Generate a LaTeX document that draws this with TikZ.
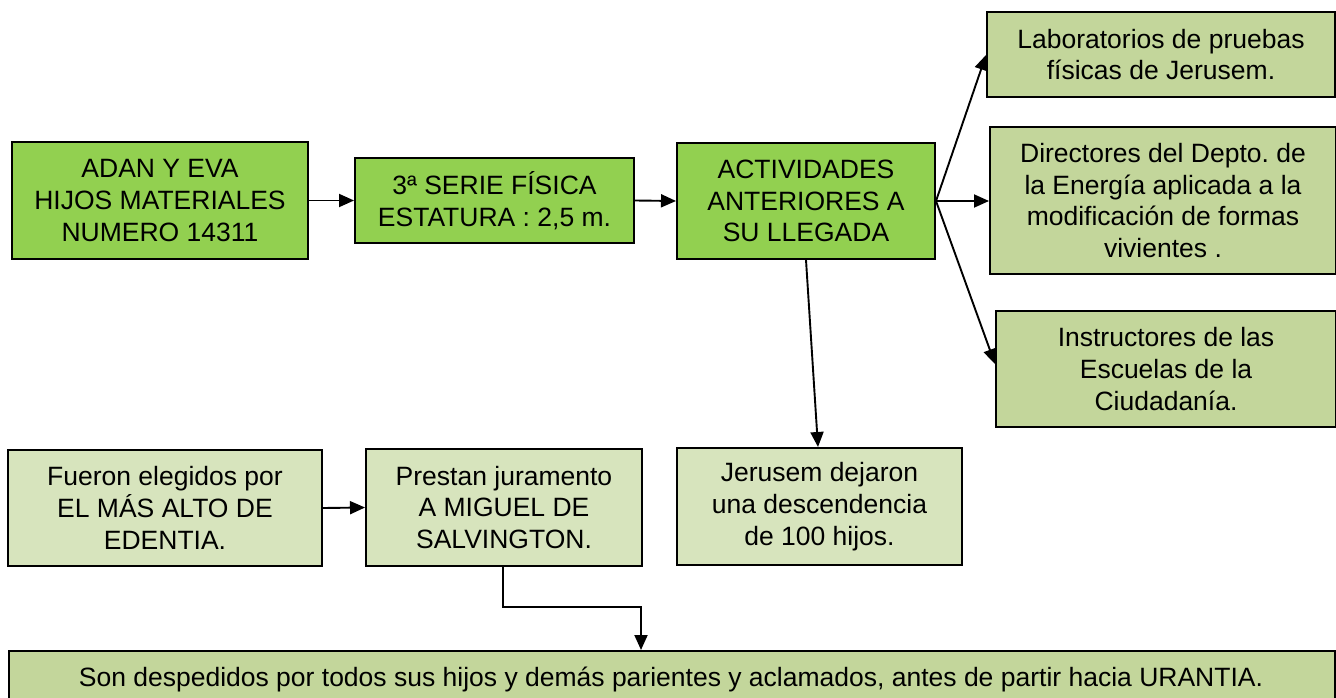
\documentclass[tikz,border=0pt]{standalone}
\usepackage{fontspec}
\setmainfont{Liberation Sans}
\usetikzlibrary{arrows.meta}
\frenchspacing
\definecolor{gbright}{HTML}{92D050}
\definecolor{gmid}{HTML}{C3D69B}
\definecolor{glight}{HTML}{D7E4BD}
\tikzset{
  box/.style={draw=black, line width=2pt, align=center, inner sep=0pt, font=\fontsize{26.5}{31.7}\selectfont},
  bright/.style={box, fill=gbright},
  mid/.style={box, fill=gmid},
  light/.style={box, fill=glight},
  arr/.style={line width=1.9pt, -{Triangle[length=15pt,width=13pt]}},
}
\begin{document}
\begin{tikzpicture}[x=1pt,y=-1pt]
\useasboundingbox (0,0) rectangle (1336,698);
\begin{scope}
\clip (0,0) rectangle (1336,698);
\node[bright, minimum width=296, minimum height=117] (a) at (160,200.5) {ADAN Y EVA\\HIJOS MATERIALES\\NUMERO 14311};
\node[bright, minimum width=279, minimum height=85] (b) at (494.5,200.5) {3ª SERIE FÍSICA\\ESTATURA : 2,5 m.};
\node[bright, minimum width=258, minimum height=116] (c) at (806,201) {ACTIVIDADES\\ANTERIORES A\\SU LLEGADA};
\node[mid, minimum width=348, minimum height=85] (d) at (1161,54.5) {Laboratorios de pruebas\\físicas de Jerusem.};
\node[mid, minimum width=346, minimum height=147] (e) at (1163,200.5) {Directores del Depto. de\\la Energía aplicada a la\\modificación de formas\\vivientes .};
\node[mid, minimum width=340, minimum height=116] (f) at (1166,369) {Instructores de las\\Escuelas de la\\Ciudadanía.};
\node[light, minimum width=285, minimum height=117] (g) at (819.5,506.5) {Jerusem dejaron\\una descendencia\\de 100 hijos.};
\node[light, minimum width=314, minimum height=116] (h) at (165,508) {Fueron elegidos por\\EL MÁS ALTO DE\\EDENTIA.};
\node[light, minimum width=276, minimum height=117] (i) at (504,507.5) {Prestan juramento\\A MIGUEL DE\\SALVINGTON.};
\node[mid, minimum width=1326, minimum height=70, anchor=north west] (j) at (8,650) {};
\node[font=\fontsize{26.5}{31.7}\selectfont, inner sep=0pt] (jt) at (671,679) {Son despedidos por todos sus hijos y demás parientes y aclamados, antes de partir hacia URANTIA.};
\coordinate (c0) at (c.east);
\draw[arr] (a.east) -- (b.west);
\draw[arr] (b.east) -- (c.west);
\draw[arr] (c0) -- (d.west |- 0,55);
\draw[arr] (c0) -- (e.west |- c0);
\draw[arr] (c0) -- (f.west |- 0,364);
\draw[arr] (c.south) -- (g.north -| 818,0);
\draw[arr] (h.east) -- (i.west);
\coordinate (k1) at (503,607);
\coordinate (k2) at (641,607);
\draw[arr] (i.south -| k1) -- (k1) -- (k2) -- (k2 |- j.north);
\end{scope}
\end{tikzpicture}
\end{document}
